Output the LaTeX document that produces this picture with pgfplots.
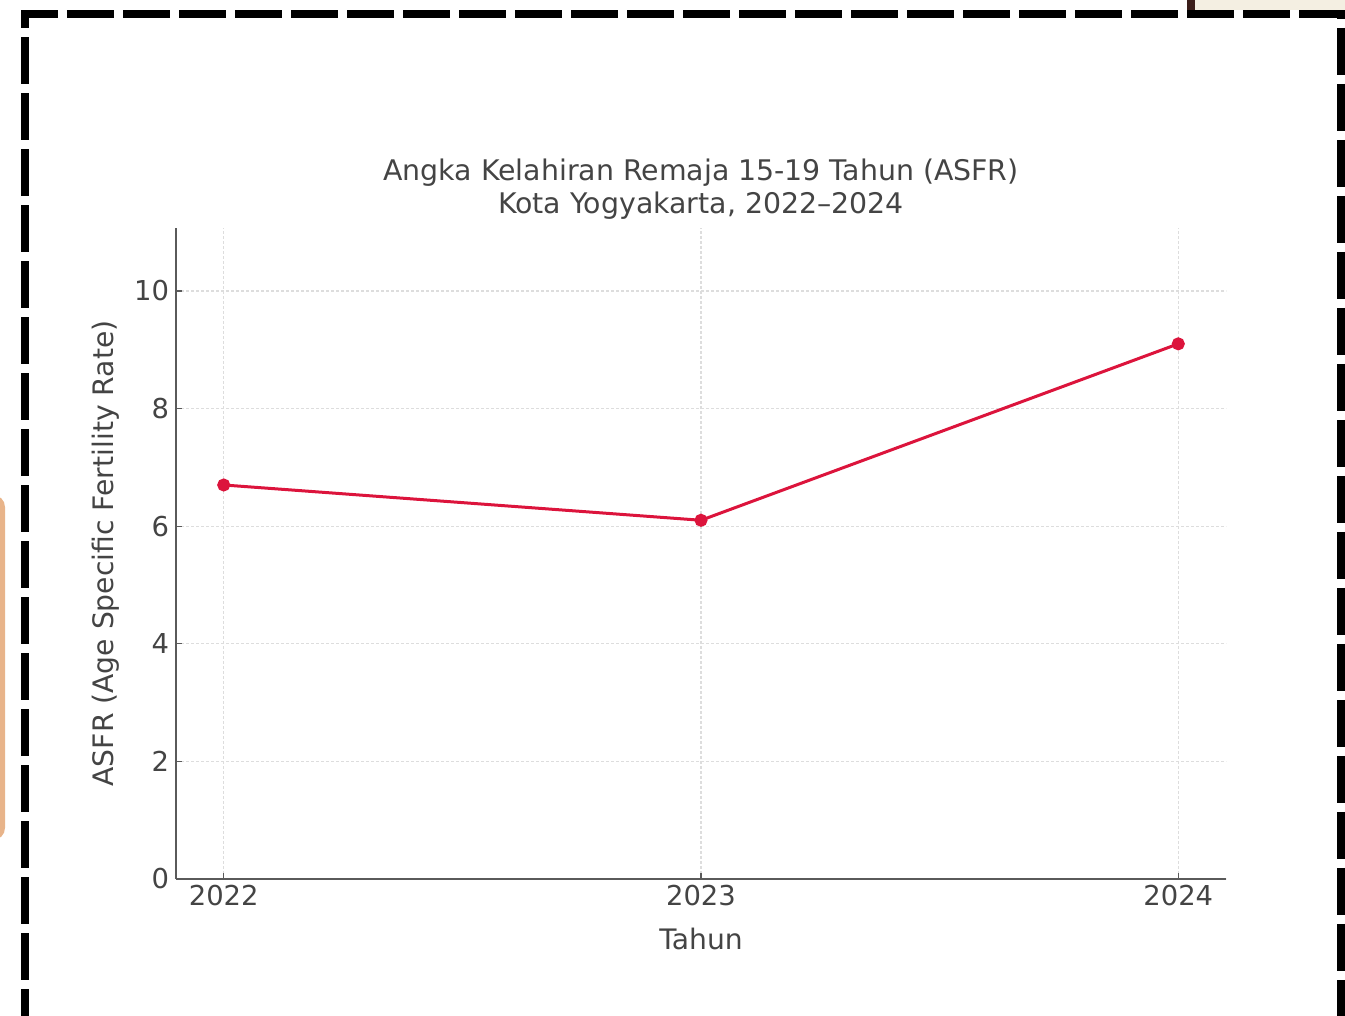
\documentclass[border=0pt]{standalone}
\usepackage{pgfplots}
\pgfplotsset{compat=1.18}
\usepackage{fontspec}
\setmainfont{DejaVu Sans}
\definecolor{txt}{HTML}{444444}
\definecolor{spine}{HTML}{5A5A5A}
\definecolor{gridc}{HTML}{DDDDDD}
\definecolor{lred}{HTML}{DC143C}
\definecolor{tan}{HTML}{E8B48A}
\definecolor{beige}{HTML}{F4EFE2}
\definecolor{brownbar}{HTML}{3B1E1A}

\begin{document}
\begin{tikzpicture}
% page = 1345 x 1016 px, 1 px = 0.5bp
\path[use as bounding box] (0,0) rectangle (672.5bp,508bp);

% bits of the page around the frame
\fill[tan,rounded corners=6bp] (-20bp,88bp) rectangle (2.5bp,260.5bp);
\fill[beige] (597.5bp,503bp) rectangle (672.5bp,510bp);
\fill[brownbar] (593.5bp,503bp) rectangle (597.5bp,510bp);

% dashed frame
\draw[black,line width=4bp,dash pattern=on 23.5bp off 4.5bp,dash phase=0bp]
  (12.5bp,-10bp) -- (12.5bp,501bp) -- (670.5bp,501bp) -- (670.5bp,-10bp);

\begin{axis}[
  scale only axis,
  width=525bp, height=325.5bp,
  at={(88bp,68.5bp)}, anchor=south west,
  xmin=2021.9, xmax=2024.1,
  ymin=0, ymax=11.07,
  xtick={2022,2023,2024},
  ytick={0,2,4,6,8,10},
  xticklabel style={/pgf/number format/1000 sep={}},
  /pgf/number format/assume math mode=true,
  axis x line*=bottom, axis y line*=left,
  axis line style={spine,line width=1bp},
  tick style={spine,line width=0.6bp},
  tick align=inside, major tick length=3bp,
  every tick label/.append style={font=\fontsize{13.7bp}{16bp}\selectfont,text=txt},
  xticklabel style={yshift=0.5bp},
  grid=major,
  major grid style={gridc,line width=0.6bp,dash pattern=on 1.5bp off 1bp},
  xlabel={Tahun},
  ylabel={ASFR (Age Specific Fertility Rate)},
  label style={font=\fontsize{14.1bp}{16bp}\selectfont,text=txt},
  xlabel style={yshift=-4.5bp},
  ylabel style={yshift=0.5bp},
  title={Angka Kelahiran Remaja 15-19 Tahun (ASFR)\\Kota Yogyakarta, 2022–2024},
  title style={align=center,font=\fontsize{14.2bp}{16.5bp}\selectfont,text=txt,yshift=-5bp},
]
\addplot[lred,line width=1.5bp,mark=*,mark size=2.5bp,mark options={fill=lred,draw=lred}]
  coordinates {(2022,6.7) (2023,6.1) (2024,9.1)};
\end{axis}
\end{tikzpicture}
\end{document}
